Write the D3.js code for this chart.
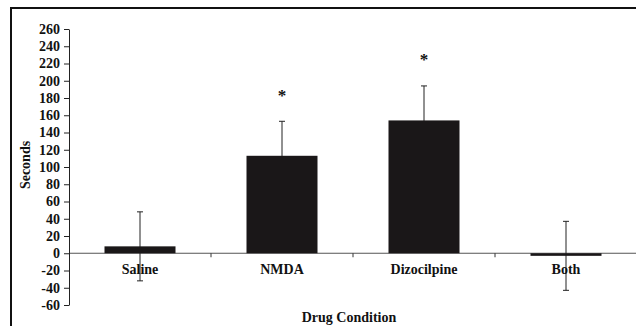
<!DOCTYPE html>
<html><head><meta charset="utf-8">
<script src="https://cdn.jsdelivr.net/npm/d3@7"></script>
<style>body{margin:0;background:#fff}svg{display:block}text{font-family:"Liberation Serif","Times New Roman",serif;font-weight:bold;fill:#111}</style>
</head><body>
<svg id="c" width="636" height="326"></svg>
<script>
const categories = ["Saline","NMDA","Dizocilpine","Both"];
const means = [8, 113, 154, -3];
const errors = [40, 40, 40, 40];
const significant = [false, true, true, false];
const yTicks = [-60,-40,-20,0,20,40,60,80,100,120,140,160,180,200,220,240,260];

const svg = d3.select("#c");
const W = 636, H = 326;
const y = d3.scaleLinear().domain([-60, 260]).range([305, 29]);
const x = d3.scaleBand().domain(categories).range([69, 637]).paddingInner(0.5).paddingOuter(0.25);
const step = x.step();

// frame
svg.append("path").attr("d", `M11,${H} L11,8 L${W},8`).attr("fill","none").attr("stroke","#111").attr("stroke-width",2);

// zero line
svg.append("line").attr("x1",69).attr("x2",W).attr("y1",y(0)).attr("y2",y(0)).attr("stroke","#555").attr("stroke-width",1.2);

// category tick marks
const bounds = d3.range(1, categories.length).map(i => 69 + i*step);
svg.selectAll(".ct").data(bounds).join("line").attr("x1",d=>d).attr("x2",d=>d)
  .attr("y1",y(0)).attr("y2",y(0)+4).attr("stroke","#333");

// y axis
const ya = svg.append("g").attr("transform","translate(69,0)")
  .call(d3.axisLeft(y).tickValues(yTicks).tickFormat(d=>String(d)).tickSize(5).tickSizeOuter(0).tickPadding(4));
ya.attr("font-family",null);
ya.selectAll("text").style("font-size","14px").style("font-family","Liberation Serif").style("font-weight","bold").attr("fill","#111");
ya.selectAll("line,path").attr("stroke","#222");

// error bars (drawn beneath bars)
const g = svg.append("g").attr("stroke","#222").attr("stroke-width",1);
categories.forEach((c,i)=>{
  const cx = x(c)+x.bandwidth()/2;
  const top = y(means[i]+errors[i]), bot = y(means[i]-errors[i]);
  g.append("line").attr("x1",cx).attr("x2",cx).attr("y1",top).attr("y2",bot);
  g.append("line").attr("x1",cx-3).attr("x2",cx+3).attr("y1",top).attr("y2",top);
  g.append("line").attr("x1",cx-3).attr("x2",cx+3).attr("y1",bot).attr("y2",bot);
  if (significant[i]) {
    svg.append("text").attr("x",cx).attr("y",y(means[i]+errors[i]+33)+8)
      .attr("text-anchor","middle").style("font-size","17px").text("*");
  }
});

// bars
svg.selectAll(".bar").data(categories).join("rect")
  .attr("x", d=>x(d)).attr("width", x.bandwidth())
  .attr("y", (d,i)=>y(Math.max(0,means[i])))
  .attr("height", (d,i)=>Math.abs(y(means[i])-y(0)))
  .attr("fill","#1a1718");

// category labels
svg.selectAll(".cl").data(categories).join("text")
  .attr("x", d=>x(d)+x.bandwidth()/2).attr("y", 274)
  .attr("text-anchor","middle").style("font-size","14px").text(d=>d);

// axis titles
svg.append("text").attr("x",349).attr("y",322).attr("text-anchor","middle").style("font-size","14px").text("Drug Condition");
svg.append("text").attr("transform","translate(30,165) rotate(-90)").attr("text-anchor","middle").style("font-size","14px").text("Seconds");
</script>
</body></html>
